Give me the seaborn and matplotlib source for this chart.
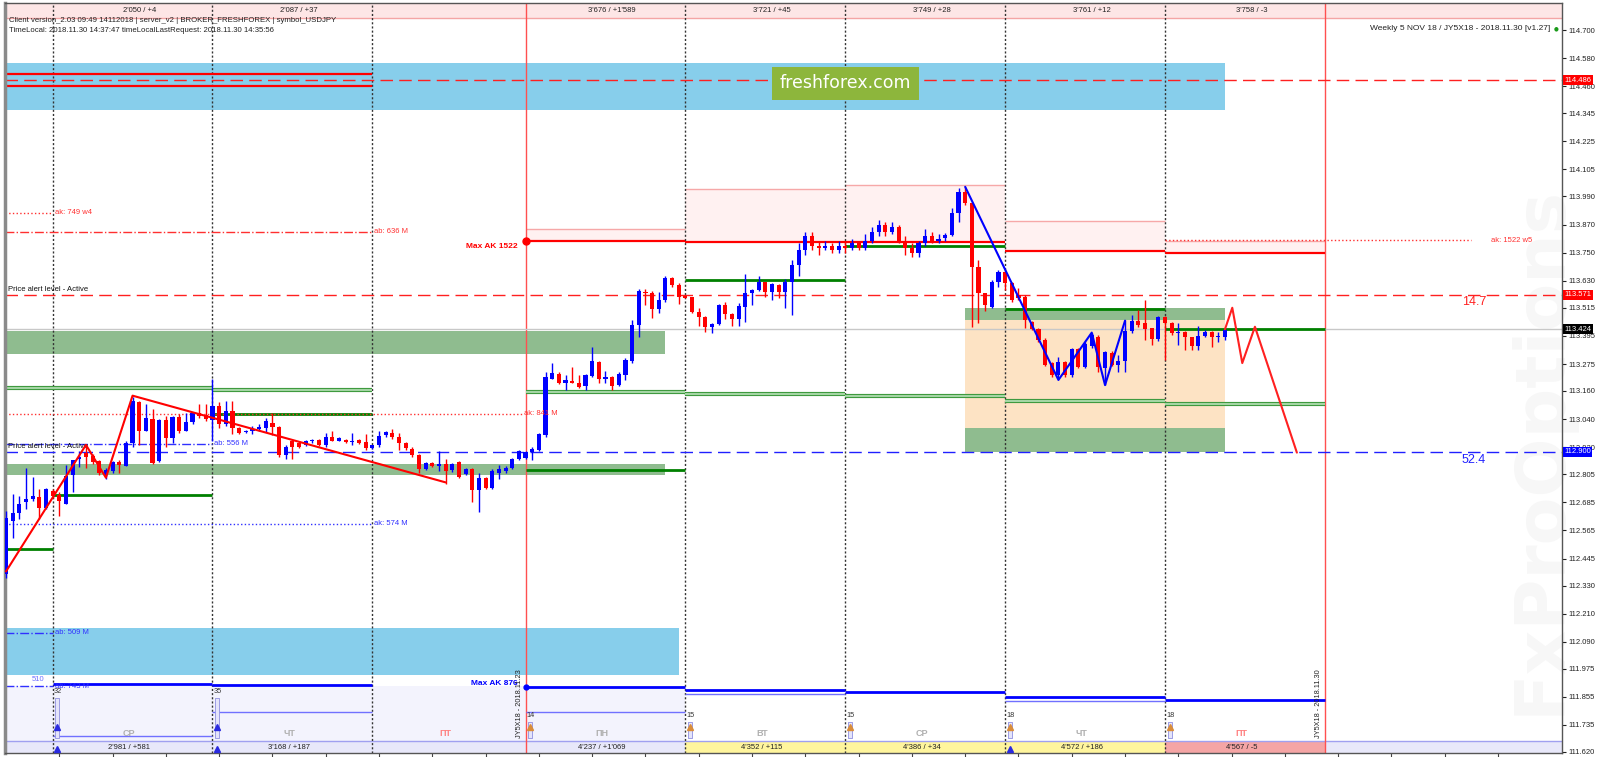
import matplotlib
matplotlib.use("Agg")
import numpy as np
import pandas as pd
import matplotlib.pyplot as plt
import matplotlib.transforms as mtransforms
import seaborn as sns

# hourly USDJPY candles (bar 0 = first visible bar)
opens = [112.380, 112.606, 112.639, 112.686, 112.697, 112.707, 112.659, 112.733, 112.717, 112.678,
         112.801, 112.870, 112.895, 112.884, 112.861, 112.801, 112.818, 112.856, 112.841, 112.938,
         113.111, 112.991, 113.039, 112.861, 113.035, 112.960, 113.049, 112.991, 113.029, 113.064,
         113.058, 113.036, 113.097, 113.020, 113.075, 113.000, 112.986, 112.988, 112.999, 113.000,
         113.025, 113.006, 112.887, 112.945, 112.938, 112.931, 112.945, 112.952, 112.928, 112.964,
         112.948, 112.952, 112.942, 112.949, 112.942, 112.916, 112.931, 112.972, 112.981, 112.962,
         112.938, 112.914, 112.887, 112.827, 112.851, 112.840, 112.847, 112.822, 112.856, 112.804,
         112.827, 112.736, 112.789, 112.747, 112.808, 112.818, 112.830, 112.870, 112.875, 112.899,
         112.908, 112.972, 113.213, 113.232, 113.195, 113.202, 113.196, 113.181, 113.223, 113.285,
         113.213, 113.218, 113.185, 113.228, 113.289, 113.441, 113.583, 113.580, 113.508, 113.548,
         113.640, 113.612, 113.565, 113.559, 113.498, 113.474, 113.431, 113.445, 113.526, 113.488,
         113.465, 113.519, 113.579, 113.590, 113.623, 113.583, 113.612, 113.583, 113.626, 113.697,
         113.761, 113.820, 113.780, 113.770, 113.780, 113.760, 113.780, 113.770, 113.790, 113.770,
         113.800, 113.840, 113.870, 113.840, 113.860, 113.800, 113.770, 113.750, 113.790, 113.820,
         113.800, 113.811, 113.826, 113.918, 114.011, 113.961, 113.691, 113.577, 113.520, 113.627,
         113.669, 113.620, 113.570, 113.563, 113.456, 113.423, 113.378, 113.278, 113.228, 113.285,
         113.228, 113.338, 113.264, 113.352, 113.392, 113.257, 113.324, 113.271, 113.290, 113.416,
         113.460, 113.449, 113.428, 113.381, 113.477, 113.449, 113.406, 113.413, 113.389, 113.352,
         113.396, 113.413, 113.392, 113.389]
highs = [112.650, 112.721, 112.714, 112.830, 112.793, 112.743, 112.746, 112.740, 112.728, 112.844,
         112.866, 112.902, 112.923, 112.890, 112.866, 112.830, 112.862, 112.866, 112.945, 113.133,
         113.119, 113.104, 113.082, 113.040, 113.054, 113.054, 113.060, 113.068, 113.070, 113.104,
         113.104, 113.212, 113.111, 113.119, 113.119, 113.005, 112.995, 113.010, 113.017, 113.043,
         113.068, 113.010, 112.931, 112.952, 112.945, 112.952, 112.956, 112.956, 112.981, 112.988,
         112.964, 112.956, 112.981, 112.955, 112.977, 112.931, 112.988, 112.991, 112.996, 112.981,
         112.942, 112.920, 112.890, 112.856, 112.856, 112.905, 112.870, 112.851, 112.862, 112.832,
         112.832, 112.808, 112.795, 112.825, 112.844, 112.838, 112.875, 112.910, 112.905, 112.922,
         112.980, 113.242, 113.280, 113.240, 113.228, 113.263, 113.228, 113.232, 113.346, 113.290,
         113.246, 113.225, 113.240, 113.299, 113.462, 113.593, 113.597, 113.585, 113.583, 113.650,
         113.645, 113.619, 113.568, 113.562, 113.516, 113.478, 113.448, 113.530, 113.541, 113.491,
         113.536, 113.659, 113.593, 113.650, 113.626, 113.620, 113.615, 113.636, 113.718, 113.790,
         113.840, 113.840, 113.800, 113.800, 113.790, 113.800, 113.800, 113.810, 113.800, 113.830,
         113.860, 113.890, 113.880, 113.880, 113.870, 113.820, 113.790, 113.800, 113.850, 113.840,
         113.830, 113.835, 113.940, 114.025, 114.032, 113.965, 113.719, 113.580, 113.635, 113.675,
         113.676, 113.625, 113.600, 113.570, 113.460, 113.430, 113.385, 113.285, 113.307, 113.290,
         113.345, 113.345, 113.370, 113.406, 113.400, 113.330, 113.330, 113.314, 113.463, 113.484,
         113.506, 113.548, 113.430, 113.480, 113.480, 113.455, 113.449, 113.416, 113.392, 113.437,
         113.420, 113.416, 113.413, 113.424]
lows = [112.360, 112.533, 112.613, 112.656, 112.692, 112.613, 112.656, 112.705, 112.627, 112.678,
        112.728, 112.837, 112.832, 112.850, 112.800, 112.786, 112.812, 112.808, 112.838, 112.923,
        112.931, 112.988, 112.848, 112.855, 112.923, 112.938, 112.980, 112.988, 113.020, 113.046,
        113.032, 112.945, 113.000, 113.010, 112.977, 112.975, 112.980, 112.977, 112.988, 112.986,
        112.974, 112.880, 112.870, 112.870, 112.916, 112.925, 112.940, 112.925, 112.923, 112.945,
        112.945, 112.938, 112.931, 112.935, 112.909, 112.912, 112.923, 112.962, 112.957, 112.909,
        112.910, 112.880, 112.808, 112.822, 112.835, 112.818, 112.765, 112.815, 112.788, 112.800,
        112.688, 112.642, 112.742, 112.742, 112.786, 112.812, 112.825, 112.866, 112.870, 112.865,
        112.905, 112.965, 113.209, 113.190, 113.164, 113.192, 113.171, 113.164, 113.221, 113.192,
        113.192, 113.164, 113.180, 113.206, 113.278, 113.391, 113.526, 113.470, 113.491, 113.540,
        113.605, 113.533, 113.555, 113.491, 113.437, 113.413, 113.406, 113.440, 113.465, 113.437,
        113.437, 113.455, 113.526, 113.588, 113.559, 113.548, 113.555, 113.516, 113.484, 113.650,
        113.740, 113.760, 113.740, 113.760, 113.750, 113.750, 113.750, 113.760, 113.760, 113.760,
        113.790, 113.820, 113.820, 113.830, 113.790, 113.740, 113.730, 113.730, 113.780, 113.790,
        113.790, 113.800, 113.820, 113.883, 113.955, 113.435, 113.449, 113.500, 113.515, 113.605,
        113.591, 113.540, 113.550, 113.428, 113.418, 113.370, 113.265, 113.220, 113.214, 113.220,
        113.220, 113.258, 113.258, 113.345, 113.243, 113.186, 113.265, 113.243, 113.243, 113.406,
        113.435, 113.378, 113.356, 113.375, 113.293, 113.400, 113.356, 113.335, 113.335, 113.335,
        113.390, 113.349, 113.371, 113.378]
closes = [112.620, 112.639, 112.678, 112.700, 112.710, 112.659, 112.743, 112.711, 112.692, 112.796,
          112.866, 112.880, 112.880, 112.856, 112.808, 112.822, 112.856, 112.844, 112.938, 113.119,
          112.988, 113.043, 112.851, 113.035, 112.960, 113.049, 112.988, 113.029, 113.064, 113.054,
          113.039, 113.097, 113.017, 113.075, 113.000, 112.981, 112.991, 112.996, 113.007, 113.032,
          113.006, 112.887, 112.923, 112.923, 112.923, 112.948, 112.952, 112.928, 112.964, 112.948,
          112.960, 112.942, 112.948, 112.938, 112.916, 112.928, 112.970, 112.986, 112.962, 112.938,
          112.916, 112.887, 112.827, 112.851, 112.841, 112.848, 112.818, 112.847, 112.793, 112.827,
          112.736, 112.789, 112.747, 112.818, 112.827, 112.832, 112.870, 112.906, 112.900, 112.911,
          112.976, 113.221, 113.235, 113.195, 113.206, 113.195, 113.175, 113.228, 113.287, 113.213,
          113.221, 113.181, 113.232, 113.292, 113.441, 113.588, 113.576, 113.508, 113.548, 113.644,
          113.612, 113.559, 113.558, 113.498, 113.474, 113.431, 113.445, 113.526, 113.488, 113.465,
          113.522, 113.579, 113.590, 113.623, 113.583, 113.616, 113.583, 113.626, 113.697, 113.761,
          113.820, 113.780, 113.770, 113.780, 113.760, 113.780, 113.770, 113.790, 113.770, 113.800,
          113.840, 113.870, 113.840, 113.860, 113.800, 113.770, 113.750, 113.790, 113.820, 113.800,
          113.810, 113.826, 113.918, 114.011, 113.961, 113.691, 113.577, 113.527, 113.627, 113.669,
          113.620, 113.548, 113.556, 113.463, 113.423, 113.378, 113.271, 113.228, 113.285, 113.228,
          113.338, 113.264, 113.361, 113.399, 113.261, 113.328, 113.271, 113.290, 113.416, 113.460,
          113.442, 113.423, 113.381, 113.474, 113.449, 113.406, 113.413, 113.389, 113.352, 113.396,
          113.413, 113.389, 113.396, 113.420]

y_ticks = [114.700, 114.580, 114.460, 114.345, 114.225, 114.105, 113.990, 113.870, 113.750,
           113.630, 113.515, 113.395, 113.275, 113.160, 113.040, 112.920, 112.805, 112.685,
           112.565, 112.445, 112.330, 112.210, 112.090, 111.975, 111.855, 111.735, 111.620]

day_starts = [7, 31, 55, 78, 102, 126, 150, 174, 198]
day_names = ['СР', 'ЧТ', 'ПТ', 'ПН', 'ВТ', 'СР', 'ЧТ', 'ПТ']
top_labels = ["2'050 / +4", "2'087 / +37", "", "3'676 / +1'589", "3'721 / +45",
              "3'749 / +28", "3'761 / +12", "3'758 / -3"]
bottom_labels = ["2'981 / +581", "3'168 / +187", "", "4'237 / +1'069", "4'352 / +115",
                 "4'386 / +34", "4'572 / +186", "4'567 / -5"]
day_counts = ["32", "35", "", "14", "15", "15", "18", "18"]

# wave markup
red_wave_x = [0, 12, 15, 19, 66]
red_wave_y = [112.390, 112.930, 112.790, 113.140, 112.770]
blue_wave_x = [144, 158, 163, 165, 168]
blue_wave_y = [114.031, 113.207, 113.409, 113.185, 113.460]
proj_x = [183, 184.1, 185.6, 187.5, 193.8]
proj_y = [113.423, 113.515, 113.279, 113.434, 112.897]

# levels: (from bar, to bar, price)
green_thick = [(-0.2, 7, 112.487), (7, 31, 112.718), (31, 55, 113.060), (78, 102, 112.822),
               (102, 126, 113.633), (126, 150, 113.779), (150, 174, 113.511), (174, 198, 113.424)]
green_double = [(-0.2, 31, 113.173), (31, 55, 113.164), (78, 102, 113.157), (102, 126, 113.146),
                (126, 150, 113.137), (150, 174, 113.117), (174, 198, 113.104)]
red_thick = [(78, 102, 113.800), (102, 150, 113.796), (150, 174, 113.759), (174, 198, 113.750),
             (-0.2, 55, 114.514), (-0.2, 55, 114.462)]
blue_thick = [(7, 31, 111.910), (31, 55, 111.906), (78, 102, 111.897), (102, 126, 111.884),
              (126, 150, 111.875), (150, 174, 111.855), (174, 198, 111.841)]
blue_thin = [(31, 55, 111.790), (78, 102, 111.790), (7, 31, 111.688), (102, 126, 111.868),
             (150, 174, 111.838)]
pink_zones = [(78, 102, 113.800, 113.850), (102, 126, 113.796, 114.022),
              (126, 150, 113.796, 114.039), (150, 174, 113.759, 113.885),
              (174, 198, 113.750, 113.800)]
cyan_zones = [(-0.2, 183, 114.359, 114.558), (-0.2, 101, 111.950, 112.150)]
green_zones = [(-0.2, 99, 113.318, 113.416), (-0.2, 99, 112.800, 112.850),
               (144, 183, 113.463, 113.514), (144, 183, 112.900, 113.002)]
orange_zone = (144, 183, 113.002, 113.463)

# notes: (line end bar, price, text, colour, linestyle)
notes = [(7, 113.920, "ak: 749 w4", "#ff3030", ":"),
         (55, 113.840, "ab: 636 M", "#ff3030", "-."),
         (77.5, 113.062, "ak: 841 M", "#ff3030", ":"),
         (31, 112.934, "ab: 556 M", "#3030ff", "-."),
         (55, 112.593, "ak: 574 M", "#3030ff", ":"),
         (7, 112.129, "ab: 509 M", "#3030ff", "-."),
         (7, 111.901, "ab: 743 M", "#3030ff", "-.")]

price_tags = [(114.486, "#ff0000", "white"), (113.571, "#ff0000", "white"),
              (113.424, "#000000", "white"), (112.900, "#0000ff", "white")]

sns.set_theme(style="white")
plt.rcParams['font.family'] = ['Liberation Sans', 'DejaVu Sans']

fig = plt.figure(figsize=(16, 7.57), dpi=100)
ax = fig.add_axes([5 / 1600, 4 / 757, 1557 / 1600, 750 / 757])
ax.set_xlim(-0.15, 233.6)
ax.set_ylim(111.6155, 114.8152)

df = pd.DataFrame({"open": opens, "high": highs, "low": lows, "close": closes})
df["bar"] = np.arange(len(df))
df["col"] = np.where(df["close"] >= df["open"], "#0000ff", "#ff0000")

# watermark
ax.text(230.3, 112.91, "FxProOptions", rotation=90, fontsize=50, fontweight="bold",
        color="#f7f7f7", ha="center", va="center", zorder=0, family="DejaVu Sans")

# zones
for x0, x1, lo, hi in cyan_zones:
    ax.fill_between([x0, x1], lo, hi, color="#87ceeb", lw=0, zorder=1)
for x0, x1, lo, hi in green_zones:
    ax.fill_between([x0, x1], lo, hi, color="#8fbc8f", lw=0, zorder=1)
ax.fill_between(orange_zone[:2], orange_zone[2], orange_zone[3], color="#fde3c4", lw=0, zorder=1)
for x0, x1, lo, hi in pink_zones:
    ax.fill_between([x0, x1], lo, hi, color="#fff1f1", lw=0, zorder=1)
    ax.hlines(hi, x0, x1, color="#f6a8a8", lw=1, zorder=2)
ax.fill_between([-0.2, 102], 111.667, 111.90, color="#f3f3fd", lw=0, zorder=1)

# header / footer strips
ax.axhspan(114.751, 114.8152, color="#fde6e6", lw=0, zorder=1)
ax.axhline(114.751, color="#f4a5a5", lw=1, zorder=2)
ax.axhspan(111.6155, 111.667, color="#e8e8fa", lw=0, zorder=1)
ax.axhline(111.667, color="#a0a0f0", lw=1, zorder=2)
ax.fill_between([102, 174], 111.6155, 111.667, color="#fff59d", lw=0, zorder=1)
ax.fill_between([174, 198], 111.6155, 111.667, color="#f5a5a5", lw=0, zorder=1)

# period separators
for d in day_starts:
    if d in (78, 198):
        ax.axvline(d, color="#ff5050", lw=1, zorder=2)
    else:
        ax.axvline(d, color="#333333", lw=1, ls=(0, (1.5, 1.5)), zorder=2)

# horizontal levels
ax.axhline(113.424, color="#c8c8c8", lw=1, zorder=2)
ax.axhline(114.486, color="#ff2020", lw=1, ls=(0, (9, 4.5)), zorder=2)
ax.axhline(113.571, color="#ff2020", lw=1, ls=(0, (9, 4.5)), zorder=2)
ax.axhline(112.900, color="#2020ff", lw=1, ls=(0, (9, 4.5)), zorder=2)
for x0, x1, p in green_double:
    ax.hlines(p, x0, x1, color="#3f9a3f", lw=3, zorder=2)
    ax.hlines(p, x0, x1, color="#b9e2b9", lw=1.2, zorder=2)
for x0, x1, p in green_thick:
    ax.hlines(p, x0, x1, color="#008000", lw=2, zorder=2)
for x0, x1, p in red_thick:
    ax.hlines(p, x0, x1, color="#ff0000", lw=1.6, zorder=2)
for x0, x1, p in blue_thick:
    ax.hlines(p, x0, x1, color="#0000ff", lw=2, zorder=2)
for x0, x1, p in blue_thin:
    ax.hlines(p, x0, x1, color="#7070ff", lw=1, zorder=2)
ax.hlines(113.804, 174, 220, color="#ff3030", lw=1, ls=":", zorder=2)

for end, p, txt, c, ls in notes:
    ax.hlines(p, -0.2, end, color=c, lw=1, ls=ls, zorder=2)
    ax.text(end + 0.3, p, txt, color=c, fontsize=5.5, va="center", ha="left", zorder=5)
ax.text(229.2, 113.804, "ak: 1522 w5", color="#ff3030", fontsize=5.5, va="center", ha="right")

# candles
ax.vlines(df["bar"], df["low"], df["high"], colors=df["col"], lw=1, zorder=3)
body_lo = df[["open", "close"]].min(axis=1)
body_h = (df["close"] - df["open"]).abs().clip(lower=0.004)
ax.bar(df["bar"], body_h, bottom=body_lo, width=0.62, color=df["col"], lw=0, zorder=3)

# waves
sns.lineplot(x=red_wave_x, y=red_wave_y, ax=ax, color="#ff0000", lw=1.5, sort=False, zorder=4)
sns.lineplot(x=blue_wave_x, y=blue_wave_y, ax=ax, color="#0000ff", lw=1.5, sort=False, zorder=4)
sns.lineplot(x=proj_x, y=proj_y, ax=ax, color="#ff2020", lw=1.5, sort=False, zorder=4)

# max AK markers
ax.plot(78, 113.800, "o", color="#ff0000", ms=5, zorder=5)
ax.plot(78, 111.897, "o", color="#0000ff", ms=3.5, zorder=5)
ax.text(76.8, 113.778, "Max AK 1522", color="#ff0000", fontsize=6, fontweight="bold",
        ha="right", va="center", zorder=5)
ax.text(76.8, 111.914, "Max AK 876", color="#0000ff", fontsize=6, fontweight="bold",
        ha="right", va="center", zorder=5)
ax.text(4.8, 111.931, "510", color="#7070ff", fontsize=5.5, ha="center", va="center")

ax.text(0.3, 113.578, "Price alert level - Active", fontsize=5.5, color="#111111", va="bottom")
ax.text(0.3, 112.907, "Price alert level - Active", fontsize=5.5, color="#111111", va="bottom")

ax.text(220.4, 113.540, "14.7", fontsize=9, color="#ff2020", ha="center", va="center")
ax.text(220.4, 112.866, "52.4", fontsize=9, color="#2020ff", ha="center", va="center")

# logo
ax.text(126, 114.472, "freshforex.com", fontsize=12.5, color="white", ha="center", va="center",
        family="DejaVu Sans", zorder=6,
        bbox=dict(boxstyle="square,pad=0.45", fc="#8db63c", ec="none"))

# vertical contract labels
ax.text(77.1, 111.680, "JY5X18 - 2018.11.23", rotation=90, fontsize=5.3, color="#222222",
        ha="center", va="bottom", zorder=5)
ax.text(197.1, 111.680, "JY5X18 - 2018.11.30", rotation=90, fontsize=5.3, color="#222222",
        ha="center", va="bottom", zorder=5)

# day captions, strip labels, small counters
ends = day_starts[1:]
for i, s in enumerate(day_starts[:-1]):
    mid = (s + ends[i]) / 2 - 0.5
    ax.text(mid, 111.697, day_names[i], fontsize=6.5, fontweight="bold",
            color="#ff8080" if day_names[i] == "ПТ" else "#b0b0b0", ha="center", va="center")
    if top_labels[i]:
        ax.text(mid + 1.5, 114.783, top_labels[i], fontsize=5.5, color="#222222",
                ha="center", va="center", zorder=5)
    if bottom_labels[i]:
        ax.text(mid, 111.641, bottom_labels[i], fontsize=5.5, color="#222222",
                ha="center", va="center", zorder=5)
    if day_counts[i]:
        top = 111.85 if i < 2 else 111.748
        ax.fill_between([s + 0.4, s + 1.0], 111.680, top, color="#e4e4fa", ec="#9090e0",
                        lw=0.6, zorder=4)
        ax.text(s + 0.2, top + 0.012, day_counts[i], fontsize=5.3, color="#333333",
                ha="left", va="bottom")
        ax.plot(s + 0.7, 111.726, "^", color="#2a2ae0" if i < 2 else "#d98c3a", ms=4, zorder=5)
for s in (7, 31, 150):
    ax.plot(s + 0.7, 111.633, "^", color="#2a2ae0", ms=4, zorder=5)

# right price scale
ax.yaxis.tick_right()
ax.set_yticks(y_ticks)
ax.set_yticklabels([f"{t:.3f}" for t in y_ticks])
ax.tick_params(axis="y", labelsize=5.5, length=3, width=0.8, pad=2, colors="#222222",
               right=True, left=False)
ax.set_xticks(np.arange(8, 232, 8))
ax.set_xticklabels([])
ax.tick_params(axis="x", length=3, width=0.8, bottom=True, colors="#444444")
blend = mtransforms.blended_transform_factory(ax.transAxes, ax.transData)
for p, fc, tc in price_tags:
    ax.text(1.0015, p, f"{p:.3f}", transform=blend, fontsize=5.5, color=tc, ha="left",
            va="center", zorder=6, clip_on=False,
            bbox=dict(boxstyle="square,pad=0.18", fc=fc, ec="none"))

for side in ("top", "right", "bottom"):
    ax.spines[side].set_color("#555555")
    ax.spines[side].set_linewidth(1)
ax.spines["left"].set_color("#8a8a8a")
ax.spines["left"].set_linewidth(2.5)
ax.grid(False)

# info texts
fig.text(9 / 1600, 1 - 21 / 757, "Client version_2.03 09:49 14112018 | server_v2 | "
         "BROKER_FRESHFOREX | symbol_USDJPY", fontsize=5.6, color="#222222", va="center")
fig.text(9 / 1600, 1 - 31 / 757, "TimeLocal: 2018.11.30 14:37:47 timeLocalLastRequest: "
         "2018.11.30 14:35:56", fontsize=5.6, color="#222222", va="center")
fig.text(1550 / 1600, 1 - 29 / 757, "Weekly 5 NOV 18 / JY5X18 - 2018.11.30 [v1.27]",
         fontsize=6, color="#222222", ha="right", va="center")
fig.text(1556 / 1600, 1 - 29 / 757, "●", fontsize=4, color="#1a9a1a", ha="center",
         va="center", family="DejaVu Sans")

fig.savefig("out.png", dpi=100)
